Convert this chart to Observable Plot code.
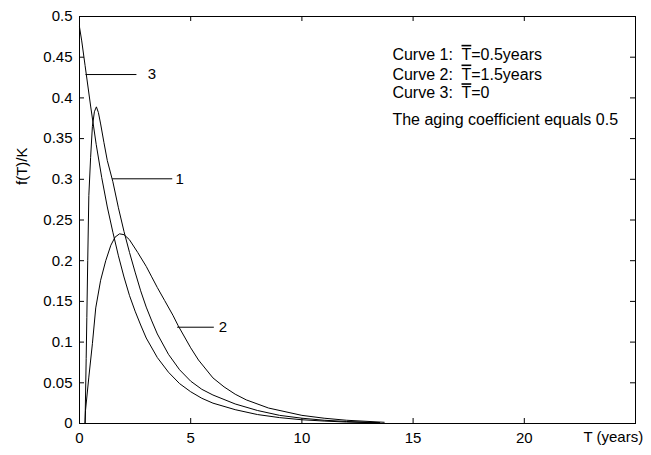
<!DOCTYPE html>
<html><head><meta charset="utf-8">
<script src="https://cdn.jsdelivr.net/npm/d3@7"></script>
<script src="https://cdn.jsdelivr.net/npm/@observablehq/plot@0.6"></script>
<style>
body{margin:0;background:#fff;}
svg{font-family:"Liberation Sans",Arial,Helvetica,sans-serif;}
</style>
</head><body><div id="chart"></div>
<script>
// Curve 1 (Tbar = 0.5 years)
const t1 = [0.25, 0.3, 0.33, 0.37, 0.42, 0.5, 0.58, 0.67, 0.76, 0.85, 0.95, 1.1, 1.25, 1.5, 1.75, 2, 2.25, 2.5, 2.75, 3, 3.25, 3.5, 4, 4.5, 5, 5.5, 6, 7, 8, 9, 10, 11, 12, 13.5];
const f1 = [0, 0.08, 0.13, 0.2, 0.28, 0.327, 0.365, 0.383, 0.389, 0.382, 0.368, 0.345, 0.323, 0.297, 0.265, 0.236, 0.21, 0.186, 0.163, 0.143, 0.126, 0.11, 0.085, 0.066, 0.052, 0.042, 0.035, 0.024, 0.016, 0.01, 0.0065, 0.004, 0.0025, 0.001];
// Curve 2 (Tbar = 1.5 years)
const t2 = [0.25, 0.27, 0.42, 0.58, 0.73, 0.95, 1.18, 1.41, 1.6, 1.8, 2.0, 2.24, 2.62, 3.0, 3.23, 3.5, 3.83, 4.2, 4.44, 5, 5.35, 6, 6.5, 7, 7.5, 8.5, 10, 11, 12, 13.7];
const f2 = [0, 0.016, 0.057, 0.098, 0.142, 0.176, 0.2, 0.219, 0.229, 0.233, 0.232, 0.226, 0.21, 0.193, 0.181, 0.167, 0.151, 0.133, 0.12, 0.093, 0.078, 0.056, 0.045, 0.036, 0.029, 0.019, 0.01, 0.0065, 0.004, 0.0015];
// Curve 3 (Tbar = 0)
const t3 = [0, 0.1, 0.25, 0.5, 0.75, 1, 1.25, 1.5, 1.75, 2, 2.25, 2.5, 2.75, 3, 3.5, 4, 4.5, 5, 5.5, 6, 7, 8, 9, 10, 11, 12, 13.5];
const f3 = [0.487, 0.47, 0.44, 0.39, 0.343, 0.302, 0.266, 0.235, 0.206, 0.18, 0.157, 0.138, 0.121, 0.105, 0.081, 0.063, 0.049, 0.039, 0.031, 0.025, 0.017, 0.011, 0.0072, 0.0046, 0.003, 0.0018, 0.0008];

const xTicks = [0, 5, 10, 15, 20];
const yTicks = [0, 0.05, 0.1, 0.15, 0.2, 0.25, 0.3, 0.35, 0.4, 0.45, 0.5];

// curve labels with leader lines
const curveLabels = ["3", "1", "2"];
const leaderX1 = [0.27, 1.47, 4.39];
const leaderX2 = [2.56, 4.17, 6.04];
const leaderY = [0.4287, 0.3006, 0.1183];
const labelX = [3.26, 4.5, 6.45];

const noteLines = ["Curve 1: T=0.5years", "Curve 2: T=1.5years", "Curve 3: T=0", "The aging coefficient equals 0.5"];
const noteY = [0.4531, 0.4289, 0.4059, 0.3736];
const noteX = 14.07;

const xLabel = "T (years)";
const yLabel = "f(T)/K";

const W = 651, H = 455, ML = 79, MR = 16, MT = 16, MB = 32;
const xDomain = [0, 25], yDomain = [0, 0.5];
const tickPx = 5;
const tx = tickPx * (xDomain[1] - xDomain[0]) / (W - ML - MR);
const ty = tickPx * (yDomain[1] - yDomain[0]) / (H - MT - MB);

const toRows = (t, f, c) => t.map((T, i) => ({T, f: f[i], c}));
const rows = [...toRows(t1, f1, "1"), ...toRows(t2, f2, "2"), ...toRows(t3, f3, "3")];
const leaders = curveLabels.map((s, i) => ({s, x1: leaderX1[i], x2: leaderX2[i], y: leaderY[i], lx: labelX[i]}));
const notes = noteLines.map((s, i) => ({s, y: noteY[i]}));

const plot = Plot.plot({
  width: W, height: H,
  marginLeft: ML, marginRight: MR, marginTop: MT, marginBottom: MB,
  x: {domain: xDomain},
  y: {domain: yDomain},
  style: {fontSize: "15px", fontFamily: "'Liberation Sans', Arial, sans-serif", background: "white", color: "black"},
  marks: [
    Plot.axisX(xTicks, {anchor: "bottom", tickSize: 0, tickPadding: 9, tickFormat: d => String(d), label: null, fontSize: 15}),
    Plot.axisY(yTicks, {anchor: "left", tickSize: 0, tickPadding: 7, tickFormat: d => String(d), label: null, fontSize: 15}),
    // inward ticks on all four sides
    Plot.ruleX(xTicks, {x: d => d, y1: yDomain[0], y2: yDomain[0] + ty, stroke: "black"}),
    Plot.ruleX(xTicks, {x: d => d, y1: yDomain[1], y2: yDomain[1] - ty, stroke: "black"}),
    Plot.ruleY(yTicks, {y: d => d, x1: xDomain[0], x2: xDomain[0] + tx, stroke: "black"}),
    Plot.ruleY(yTicks, {y: d => d, x1: xDomain[1], x2: xDomain[1] - tx, stroke: "black"}),
    Plot.frame({stroke: "black"}),
    Plot.line(rows, {x: "T", y: "f", z: "c", stroke: "black", strokeWidth: 1}),
    Plot.link(leaders, {x1: "x1", x2: "x2", y1: "y", y2: "y", stroke: "black", strokeWidth: 1}),
    Plot.text(leaders, {x: "lx", y: "y", text: "s", fontSize: 15, fill: "black"}),
    Plot.text(notes, {x: () => noteX, y: "y", text: "s", textAnchor: "start", fontSize: 16, fill: "black"}),
    Plot.text([xLabel], {x: 22.66, y: 0, dy: 14, text: d => d, textAnchor: "start", fontSize: 15, fill: "black"}),
    Plot.text([yLabel], {x: 0, y: 0.316, dx: -57, rotate: -90, text: d => d, fontSize: 15, fill: "black"})
  ]
});

// overline on the T in the notes
d3.select(plot).selectAll("text").each(function() {
  const s = this.textContent;
  const k = s.indexOf("T=");
  if (s.startsWith("Curve") && k >= 0) {
    const sel = d3.select(this);
    sel.text(null).style("white-space", "pre");
    sel.append("tspan").text(s.slice(0, k).replace(": ", ":  "));
    sel.append("tspan").style("text-decoration", "overline").text("T");
    sel.append("tspan").text(s.slice(k + 1));
  }
});

document.getElementById("chart").appendChild(plot);
</script>
</body></html>
